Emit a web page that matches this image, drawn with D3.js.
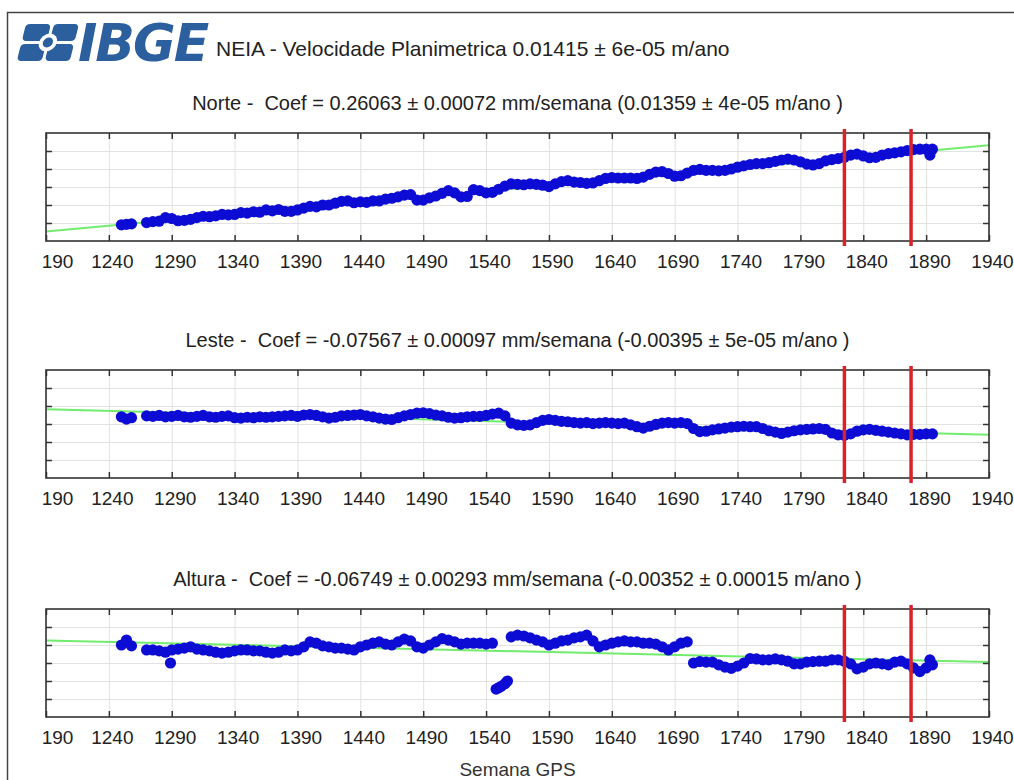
<!DOCTYPE html>
<html>
<head>
<meta charset="utf-8">
<script src="https://cdn.jsdelivr.net/npm/d3@7"></script>
<style>
  body { margin: 0; background: #fff; }
  text { font-family: "Liberation Sans", Arial, sans-serif; white-space: pre; }
</style>
</head>
<body>
<script>
// GPS weeks
var weeks = [1250, 1254, 1258,
  1270, 1275, 1280, 1285, 1290, 1295, 1300, 1305, 1310, 1315,
  1320, 1325, 1330, 1335, 1340, 1345, 1350, 1355, 1360, 1365,
  1370, 1375, 1380, 1385, 1390, 1395, 1400, 1405, 1410, 1415,
  1420, 1425, 1430, 1435, 1440, 1445, 1450, 1455, 1460, 1465,
  1470, 1475, 1480, 1485, 1490, 1495, 1500, 1505, 1510, 1515,
  1520, 1525, 1530, 1535, 1540, 1545, 1550, 1555, 1560, 1565,
  1570, 1575, 1580, 1585, 1590, 1595, 1600, 1605, 1610, 1615,
  1620, 1625, 1630, 1635, 1640, 1645, 1650, 1655, 1660, 1665,
  1670, 1675, 1680, 1685, 1690, 1695, 1700, 1705, 1710, 1715,
  1720, 1725, 1730, 1735, 1740, 1745, 1750, 1755, 1760, 1765,
  1770, 1775, 1780, 1785, 1790, 1795, 1800, 1805, 1810, 1815,
  1820, 1825, 1830, 1835, 1840, 1845, 1850, 1855, 1860, 1865,
  1870, 1875, 1880, 1885, 1890, 1895];

// mm, relative
var norte = [-84, -83, -82,
  -79, -77, -76, -68, -70, -75, -74, -72, -68, -65,
  -66, -64, -61, -62, -61, -57, -58, -55, -56, -51,
  -53, -50, -54, -54, -51, -47, -43, -44, -40, -40,
  -36, -32, -31, -35, -33, -34, -31, -31, -27, -25,
  -22, -18, -17, -29, -29, -24, -20, -14, -8, -13,
  -22, -21, -6, -8, -13, -12, -5, 2, 7, 6,
  5, 7, 6, 4, 1, 7, 12, 14, 11, 10,
  8, 9, 14, 19, 21, 20, 20, 20, 19, 22,
  28, 33, 34, 30, 24, 25, 31, 37, 39, 37,
  37, 36, 37, 40, 44, 47, 50, 52, 52, 54,
  57, 60, 62, 60, 56, 51, 49, 52, 58, 61,
  63, 66, 71, 73, 69, 65, 66, 71, 74, 76,
  78, 81, 83, 84, 84, 84];

var leste = [16, 11, 14,
  18, 17, 19, 16, 17, 19, 16, 15, 17, 19,
  16, 15, 17, 18, 14, 13, 15, 14, 16, 15,
  16, 17, 18, 19, 17, 20, 21, 19, 16, 13,
  15, 18, 19, 20, 21, 18, 16, 13, 11, 10,
  14, 18, 21, 24, 25, 23, 20, 18, 15, 13,
  14, 16, 17, 17, 19, 22, 24, 18, 2, -2,
  -3, -2, 3, 8, 10, 8, 6, 5, 3, 2,
  3, 1, 2, 3, 2, 1, 2, -2, -6, -9,
  -5, -1, 2, 3, 2, 3, 1, -10, -17, -16,
  -13, -11, -9, -7, -6, -5, -6, -6, -10, -15,
  -18, -21, -18, -15, -13, -12, -11, -10, -12, -20,
  -24, -25, -22, -16, -13, -12, -14, -16, -18, -20,
  -22, -24, -23, -23, -22, -22];

var altura = [40, 51, 38,
  29, 29, 27, 24, 29, 31, 33, 36, 31, 29,
  27, 24, 22, 24, 27, 29, 29, 27, 27, 24,
  22, 24, 29, 27, 29, 36, 47, 44, 38, 36,
  33, 33, 31, 29, 36, 40, 44, 47, 42, 40,
  47, 53, 49, 36, 33, 40, 47, 54, 51, 47,
  42, 44, 44, 44, 42, 44, -55, -46, 58, 62,
  60, 56, 51, 47, 40, 44, 49, 51, 56, 58,
  62, 49, 36, 40, 44, 47, 49, 47, 47, 44,
  44, 42, 36, 29, 36, 44, 47, 0, 3, 2,
  2, -4, -9, -12, -7, 0, 10, 9, 7, 7,
  9, 7, 4, -2, -2, 2, 3, 4, 4, 7,
  7, 4, -2, -13, -9, -2, 0, -2, -4, 2,
  4, -2, -11, -19, -11, -4];

// isolated points
var norteExtraWeeks = [1893];
var norteExtra = [71];
var lesteExtraWeeks = [];
var lesteExtra = [];
var alturaExtraWeeks = [1289, 1548, 1552, 1557, 1893];
var alturaExtra = [0, -58, -52, -40, 7];

// fitted trend lines (end points)
var norteFit = [[1190, -99], [1940, 93]];
var lesteFit = [[1190, 33], [1940, -24]];
var alturaFit = [[1190, 50], [1940, 2]];

var marks = [1825, 1878];

var xTicks = [1190, 1240, 1290, 1340, 1390, 1440, 1490, 1540, 1590, 1640, 1690, 1740, 1790, 1840, 1890, 1940];
var xTickLabels = ["190", "1240", "1290", "1340", "1390", "1440", "1490", "1540", "1590", "1640", "1690", "1740", "1790", "1840", "1890", "1940"];
var yTicks = [-80, -40, 0, 40, 80];

var titles = [
  "Norte -  Coef = 0.26063 \u00b1 0.00072 mm/semana (0.01359 \u00b1 4e-05 m/ano )",
  "Leste -  Coef = -0.07567 \u00b1 0.00097 mm/semana (-0.00395 \u00b1 5e-05 m/ano )",
  "Altura -  Coef = -0.06749 \u00b1 0.00293 mm/semana (-0.00352 \u00b1 0.00015 m/ano )"
];
var header = "NEIA - Velocidade Planimetrica 0.01415 \u00b1 6e-05 m/ano";

var W = 1014, H = 780;
var left = 46, right = 989, ph = 108;
var tops = [133, 370, 609];

var svg = d3.select("body").append("svg")
    .attr("width", W)
    .attr("height", H);

// outer frame
svg.append("rect")
    .attr("x", 7.5).attr("y", 12.5)
    .attr("width", 1030).attr("height", 800)
    .attr("fill", "none")
    .attr("stroke", "#444")
    .attr("stroke-width", 1.5);

// logo
var logo = svg.append("g").attr("fill", "#2c5f9e");
var icon = logo.append("g").attr("transform", "translate(26,24) skewX(-14)");
icon.append("rect").attr("x", 0).attr("y", 0).attr("width", 25).attr("height", 17).attr("rx", 4);
icon.append("rect").attr("x", 28).attr("y", 0).attr("width", 25).attr("height", 17).attr("rx", 4);
icon.append("rect").attr("x", 0).attr("y", 20).attr("width", 25).attr("height", 17).attr("rx", 4);
icon.append("rect").attr("x", 28).attr("y", 20).attr("width", 25).attr("height", 17).attr("rx", 4);
icon.append("circle").attr("cx", 26.5).attr("cy", 18.5).attr("r", 9).attr("fill", "#fff");
icon.append("circle").attr("cx", 26.5).attr("cy", 18.5).attr("r", 5);
logo.append("text")
    .attr("x", 78).attr("y", 61)
    .style("font-family", "DejaVu Sans, sans-serif")
    .style("font-size", "52px")
    .style("font-weight", "bold")
    .style("font-style", "italic")
    .style("letter-spacing", "-2px")
    .text("IBGE");

svg.append("text")
    .attr("x", 216).attr("y", 56)
    .attr("fill", "#222")
    .style("font-size", "21px")
    .text(header);

var x = d3.scaleLinear().domain([1190, 1940]).range([left, right]);

var panels = [
  { w: weeks, v: norte, ew: norteExtraWeeks, ev: norteExtra, fit: norteFit },
  { w: weeks, v: leste, ew: lesteExtraWeeks, ev: lesteExtra, fit: lesteFit },
  { w: weeks, v: altura, ew: alturaExtraWeeks, ev: alturaExtra, fit: alturaFit }
];

panels.forEach(function(p, k) {
  var top = tops[k];
  var y = d3.scaleLinear().domain([-120, 120]).range([top + ph, top]);
  var g = svg.append("g");

  // title
  g.append("text")
      .attr("x", (left + right) / 2)
      .attr("y", top - 23)
      .attr("text-anchor", "middle")
      .attr("fill", "#222")
      .style("font-size", "20px")
      .text(titles[k]);

  // grid
  g.append("g")
      .attr("transform", "translate(0," + (top + ph) + ")")
      .call(d3.axisBottom(x).tickValues(xTicks).tickSize(-ph).tickFormat(""))
      .call(function(s) {
        s.select(".domain").remove();
        s.selectAll("line").attr("stroke", "#e2e2e2");
      });
  g.append("g")
      .attr("transform", "translate(" + left + ",0)")
      .call(d3.axisLeft(y).tickValues(yTicks).tickSize(-(right - left)).tickFormat(""))
      .call(function(s) {
        s.select(".domain").remove();
        s.selectAll("line").attr("stroke", "#e2e2e2");
      });

  // fit line
  g.append("path")
      .datum(p.fit)
      .attr("fill", "none")
      .attr("stroke", "#72ec6c")
      .attr("stroke-width", 2)
      .attr("d", d3.line().x(function(d) { return x(d[0]); }).y(function(d) { return y(d[1]); }));

  // data points
  var pts = p.w.map(function(w, i) { return [w, p.v[i]]; })
      .concat(p.ew.map(function(w, i) { return [w, p.ev[i]]; }));
  g.selectAll("circle.pt")
      .data(pts)
      .enter().append("circle")
      .attr("class", "pt")
      .attr("cx", function(d) { return x(d[0]); })
      .attr("cy", function(d) { return y(d[1]); })
      .attr("r", 5.6)
      .attr("fill", "#0c0cd4");

  // inner ticks
  var tickStyle = function(s) {
    s.select(".domain").remove();
    s.selectAll("line").attr("stroke", "#333").attr("stroke-width", 1.5);
  };
  g.append("g")
      .attr("transform", "translate(0," + (top + ph) + ")")
      .call(d3.axisBottom(x).tickValues(xTicks).tickSize(-6).tickFormat(""))
      .call(tickStyle);
  g.append("g")
      .attr("transform", "translate(0," + top + ")")
      .call(d3.axisTop(x).tickValues(xTicks).tickSize(-6).tickFormat(""))
      .call(tickStyle);
  g.append("g")
      .attr("transform", "translate(" + left + ",0)")
      .call(d3.axisLeft(y).tickValues(yTicks).tickSize(-6).tickFormat(""))
      .call(tickStyle);
  g.append("g")
      .attr("transform", "translate(" + right + ",0)")
      .call(d3.axisRight(y).tickValues(yTicks).tickSize(-6).tickFormat(""))
      .call(tickStyle);

  // box
  g.append("rect")
      .attr("x", left).attr("y", top)
      .attr("width", right - left).attr("height", ph)
      .attr("fill", "none")
      .attr("stroke", "#333")
      .attr("stroke-width", 1.6);

  // tick labels
  g.append("g")
      .attr("transform", "translate(0," + (top + ph) + ")")
      .call(d3.axisBottom(x).tickValues(xTicks).tickSize(0).tickPadding(14)
        .tickFormat(function(d, i) { return xTickLabels[i]; }))
      .call(function(s) {
        s.select(".domain").remove();
        s.selectAll("text")
          .attr("fill", "#222")
          .attr("dx", function(d, i) { return i === 0 ? 11 : 3; })
          .style("font-size", "19px")
          .style("font-family", "Liberation Sans, Arial, sans-serif");
      });

  // red markers
  g.selectAll("line.mark")
      .data(marks)
      .enter().append("line")
      .attr("class", "mark")
      .attr("x1", function(d) { return x(d); })
      .attr("x2", function(d) { return x(d); })
      .attr("y1", top - 4)
      .attr("y2", top + ph + 5)
      .attr("stroke", "#d9232a")
      .attr("stroke-width", 3.5);
});

svg.append("text")
    .attr("x", (left + right) / 2)
    .attr("y", 776)
    .attr("text-anchor", "middle")
    .attr("fill", "#333")
    .style("font-size", "19px")
    .text("Semana GPS");
</script>
</body>
</html>
